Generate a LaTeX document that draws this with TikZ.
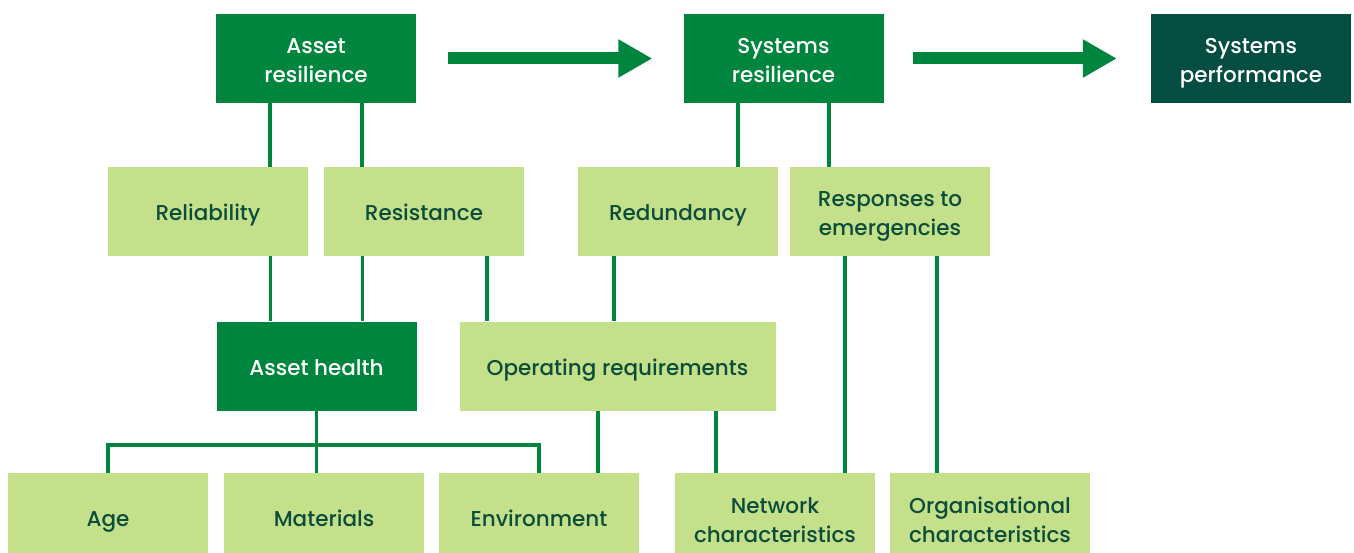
\documentclass[tikz,border=0pt]{standalone}
\usepackage{fontspec}
\setmainfont{Poppins}[BoldFont={Poppins Medium}]
\usepackage{xcolor}
\usepackage{tikz}
\usetikzlibrary{calc,arrows.meta}
\definecolor{bg}{HTML}{FFFFFF}
\definecolor{leaf}{HTML}{C5E08A}
\definecolor{green}{HTML}{00853F}
\definecolor{deep}{HTML}{034E41}
\definecolor{ink}{HTML}{0B4D3B}
\tikzset{
  box/.style={minimum width=200pt, minimum height=89pt, inner sep=0pt, align=center,
    font=\fontsize{21.5}{29}\selectfont\bfseries,
    execute at begin node=\rule{0pt}{25.5pt}, execute at end node=\rule[-7pt]{0pt}{7pt}},
  pair/.style={execute at begin node=\rule{0pt}{56pt}},
  main/.style={box, fill=green, text=white},
  top/.style={box, fill=deep, text=white},
  part/.style={box, fill=leaf, text=ink},
  link/.style={draw=green, line width=3.5pt, line cap=butt, line join=miter},
  flow/.style={draw=green, line width=12pt, -{Triangle[length=34pt,width=36pt]}},
}

\begin{document}
\begin{tikzpicture}[x=1pt, y=-1pt]
  \useasboundingbox (0,0) rectangle (1354,553);
  \clip (0,0) rectangle (1354,553);
  \node[main, pair] (ar) at (316,58.5) {Asset\\resilience};
  \node[main, pair] (sr) at (783.5,58.5) {Systems\\resilience};
  \node[top, pair] (sp) at (1251,58.5) {Systems\\performance};
  \node[part] (rel) at (208,211.5) {Reliability};
  \node[part] (res) at (424,211.5) {Resistance};
  \node[part] (red) at (678,211.5) {Redundancy};
  \node[part, pair] (rte) at (890,211.5) {Responses to\\emergencies};
  \node[main] (ah) at (316.5,366) {Asset health};
  \node[part, minimum width=316pt] (opr) at (617.5,366) {Operating requirements};
  \node[part] (age) at (108,517.5) {Age};
  \node[part] (mat) at (324,517.5) {Materials};
  \node[part] (env) at (539,517.5) {Environment};
  \node[part, pair] (net) at (775,517.5) {Network\\characteristics};
  \node[part, pair] (org) at (990,517.5) {Organisational\\characteristics};
  \coordinate (bus) at (316.5,445);
  \draw[flow] ([xshift=32pt]ar.east) -- ([xshift=-31pt]sr.west);
  \draw[flow] ([xshift=29pt]sr.east) -- ([xshift=-34pt]sp.west);
  \draw[link] ([xshift=-46pt]ar.south) -- ([xshift=-46pt]ar.south |- rel.north);
  \draw[link] ([xshift=46pt]ar.south) -- ([xshift=46pt]ar.south |- res.north);
  \draw[link] ([xshift=-45.5pt]sr.south) -- ([xshift=-45.5pt]sr.south |- red.north);
  \draw[link] ([xshift=45.5pt]sr.south) -- ([xshift=45.5pt]sr.south |- rte.north);
  \draw[link] ([xshift=-46pt]ah.north) -- ([xshift=-46pt]ah.north |- rel.south);
  \draw[link] ([xshift=46pt]ah.north) -- ([xshift=46pt]ah.north |- res.south);
  \draw[link] ([xshift=63pt]res.south) -- ([xshift=63pt]res.south |- opr.north);
  \draw[link] ([xshift=-64pt]red.south) -- ([xshift=-64pt]red.south |- opr.north);
  \draw[link] ([xshift=-45pt]rte.south) -- ([xshift=-45pt]rte.south |- net.north);
  \draw[link] ([xshift=47pt]rte.south) -- ([xshift=47pt]rte.south |- org.north);
  \draw[link] ([xshift=-19.5pt]opr.south) -- ([xshift=-19.5pt]opr.south |- env.north);
  \draw[link] ([xshift=98.5pt]opr.south) -- ([xshift=98.5pt]opr.south |- net.north);
  \draw[link] (ah.south) -- (ah.south |- mat.north);
  \draw[link] (age.north) |- (bus) -| (env.north);
\end{tikzpicture}
\end{document}
